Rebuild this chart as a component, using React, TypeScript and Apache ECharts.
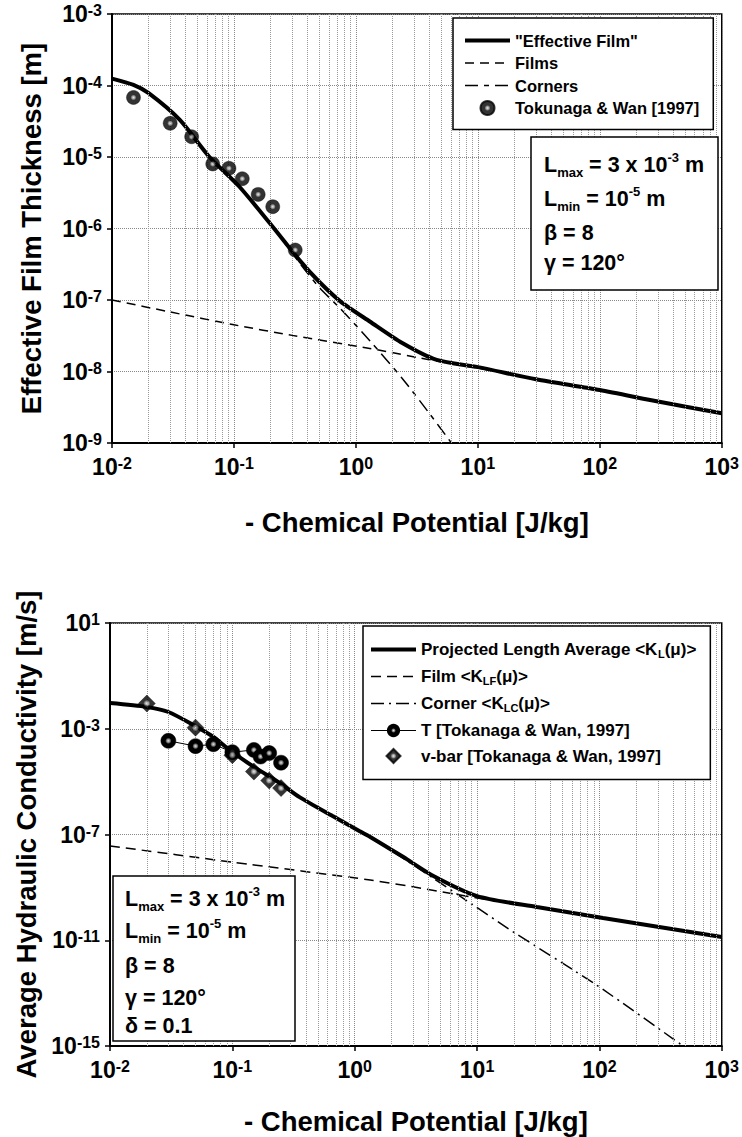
import React, { useEffect, useRef } from 'react';
import * as echarts from 'echarts';

const FONT = '"Liberation Sans", Arial, Helvetica, sans-serif';

// ---------- Top panel: Effective film thickness ----------
const topMu = [0.01, 0.015, 0.02, 0.036, 0.063, 0.11, 0.2, 0.35, 0.5, 0.75, 1.3, 2.4, 4.6, 10, 30, 100, 300, 1000];
const topEffective = [1.25e-4, 1.02e-4, 7.8e-5, 3.3e-5, 1.0e-5, 3.9e-6, 1.15e-6, 3.5e-7, 1.8e-7, 9.5e-8, 5.0e-8, 2.5e-8, 1.45e-8, 1.15e-8, 7.8e-9, 5.5e-9, 3.8e-9, 2.6e-9];
const topFilmsMu = [0.01, 0.03, 0.1, 0.3, 1.3, 4.6, 10, 30, 100, 300, 1000];
const topFilms = [1.0e-7, 6.8e-8, 4.5e-8, 3.2e-8, 2.1e-8, 1.4e-8, 1.12e-8, 7.8e-9, 5.5e-9, 3.8e-9, 2.6e-9];
const topCornersMu = [0.01, 0.015, 0.02, 0.036, 0.063, 0.11, 0.2, 0.35, 0.5, 0.75, 1.3, 2.4, 4.0, 6.07];
const topCorners = [1.25e-4, 1.02e-4, 7.8e-5, 3.3e-5, 1.0e-5, 3.9e-6, 1.15e-6, 3.2e-7, 1.5e-7, 7.5e-8, 2.7e-8, 8.0e-9, 2.6e-9, 1.0e-9];
const tokMu = [0.015, 0.03, 0.045, 0.067, 0.091, 0.117, 0.158, 0.208, 0.318];
const tokThickness = [6.8e-5, 2.96e-5, 1.92e-5, 8.0e-6, 6.95e-6, 4.97e-6, 3.0e-6, 2.02e-6, 5.0e-7];

// ---------- Bottom panel: Average hydraulic conductivity ----------
const botMu = [0.01, 0.02, 0.03, 0.048, 0.07, 0.095, 0.15, 0.244, 0.354, 0.66, 1.09, 1.34, 2.5, 4.4, 10, 30.8, 107, 1000];
const botProjected = [9.4e-3, 6.7e-3, 4.3e-3, 1.39e-3, 4.9e-4, 1.57e-4, 3.6e-5, 8.9e-6, 2.6e-6, 5.0e-7, 1.36e-7, 8.1e-8, 1.4e-8, 2.7e-9, 4.7e-10, 1.8e-10, 7.0e-11, 1.33e-11];
const botFilmMu = [0.01, 0.1, 1.34, 3.4, 10, 30.8, 107, 1000];
const botFilm = [3.7e-8, 9.0e-9, 1.9e-9, 9.5e-10, 4.0e-10, 1.8e-10, 7.0e-11, 1.33e-11];
const botCornerMu = [0.01, 0.02, 0.03, 0.048, 0.07, 0.095, 0.15, 0.244, 0.354, 0.66, 1.09, 1.34, 2.5, 4.4, 7.3, 20, 95, 483];
const botCorner = [9.4e-3, 6.7e-3, 4.3e-3, 1.39e-3, 4.9e-4, 1.57e-4, 3.6e-5, 8.9e-6, 2.6e-6, 5.0e-7, 1.34e-7, 7.9e-8, 1.25e-8, 2.2e-9, 4.6e-10, 2.0e-11, 2.0e-13, 1.0e-15];
const tMu = [0.03, 0.05, 0.07, 0.1, 0.15, 0.17, 0.2, 0.25];
const tK = [3.5e-4, 2.2e-4, 2.6e-4, 1.3e-4, 1.58e-4, 8.9e-5, 1.2e-4, 5.2e-5];
const vbarMu = [0.02, 0.05, 0.1, 0.15, 0.2, 0.25];
const vbarK = [9.0e-3, 1.1e-3, 1.0e-4, 2.4e-5, 1.1e-5, 5.7e-6];

// minor vertical grid positions (2..9 within each decade)
const minorMultipliers = [2, 3, 4, 5, 6, 7, 8, 9];
const decades = [0.01, 0.1, 1, 10, 100];
const minorGridX = decades.flatMap((d) => minorMultipliers.map((m) => +(m * d).toPrecision(3)));

const pairs = (xs: number[], ys: number[]) => xs.map((x, i) => [x, ys[i]]);

const markerFill = new echarts.graphic.RadialGradient(0.5, 0.5, 0.5, [
  { offset: 0, color: '#e0e0e0' },
  { offset: 0.22, color: '#8a8a8a' },
  { offset: 0.42, color: '#000' },
  { offset: 1, color: '#000' },
]);

const expLabel = (v: number) => {
  const e = Math.round(Math.log10(v));
  return `{b|10}{e|${e}}`;
};
const tickRich = {
  b: { fontSize: 23, fontWeight: 'bold', fontFamily: FONT, color: '#000' },
  e: { fontSize: 16, fontWeight: 'bold', fontFamily: FONT, color: '#000', verticalAlign: 'top' },
};

const nameStyle = { fontSize: 27.5, fontWeight: 'bold', fontFamily: FONT, color: '#000' };

const axisCommon = {
  axisLine: { show: true, onZero: false, lineStyle: { color: '#000', width: 2 } },
  axisTick: { show: true, inside: false, length: 5, lineStyle: { color: '#000', width: 1.5 } },
  axisLabel: { formatter: expLabel, rich: tickRich, color: '#000' },
  splitLine: { show: true, lineStyle: { type: 'dotted', color: '#888', width: 1 } },
  minorTick: { show: false },
  minorSplitLine: { show: false },
};

const minorGridMarkLine = {
  silent: true,
  symbol: ['none', 'none'],
  label: { show: false },
  lineStyle: { type: 'dotted', color: '#999', width: 1 },
  emphasis: { disabled: true },
  animation: false,
  data: minorGridX.map((v) => ({ xAxis: v })),
};

const legendText = (name: string) => {
  const m = name.match(/^(.*)_([A-Z]+)(.*)$/);
  if (m) return `{t|${m[1]}}{s|${m[2]}}{t|${m[3]}}`;
  return `{t|${name}}`;
};

const mkRich = (size: number) => ({
  t: { fontSize: size, fontWeight: 'bold', fontFamily: FONT, color: '#000', lineHeight: 20 },
  s: { fontSize: 11, fontWeight: 'bold', fontFamily: FONT, color: '#000', verticalAlign: 'bottom' },
});

const annRich = {
  b: { fontSize: 21.5, fontWeight: 'bold', fontFamily: FONT, color: '#000', lineHeight: 28 },
  s: { fontSize: 13, fontWeight: 'bold', fontFamily: FONT, color: '#000', verticalAlign: 'bottom' },
  p: { fontSize: 13, fontWeight: 'bold', fontFamily: FONT, color: '#000', verticalAlign: 'top' },
};

const annLine = (x: number, y: number, text: string) => ({
  type: 'text',
  x,
  y,
  z: 101,
  style: { text, rich: annRich, verticalAlign: 'middle', align: 'left', fill: '#000' },
});

const hiddenSymbol = { color: 'transparent', borderColor: 'transparent', borderWidth: 0, opacity: 0 };

const TOP_EFF = '"Effective Film"';
const TOP_FILMS = 'Films';
const TOP_CORNERS = 'Corners';
const TOP_TOK = 'Tokunaga & Wan [1997]';
const BOT_PROJ = 'Projected Length Average <K_L(μ)>';
const BOT_FILM = 'Film <K_LF(μ)>';
const BOT_CORNER = 'Corner <K_LC(μ)>';
const BOT_T = 'T [Tokanaga & Wan, 1997]';
const BOT_V = 'v-bar [Tokanaga & Wan, 1997]';

const lineSeries = (name: string, xi: number, xs: number[], ys: number[], z: number, lineStyle: any, extra: any = {}) => ({
  name,
  type: 'line',
  xAxisIndex: xi,
  yAxisIndex: xi,
  data: pairs(xs, ys),
  symbol: 'none',
  smooth: 0.25,
  z,
  lineStyle: { color: '#000', ...lineStyle },
  itemStyle: { color: '#000' },
  ...extra,
});

const option = {
  animation: false,
  backgroundColor: '#fff',
  textStyle: { fontFamily: FONT },
  grid: [
    { left: 112, top: 14, width: 612, height: 429, show: true, borderColor: '#000', borderWidth: 1.5, backgroundColor: 'transparent' },
    { left: 110, top: 623, width: 613, height: 423, show: true, borderColor: '#000', borderWidth: 1.5, backgroundColor: 'transparent' },
  ],
  xAxis: [0, 1].map((i) => ({
    ...axisCommon,
    gridIndex: i,
    type: 'log',
    logBase: 10,
    min: 0.01,
    max: 1000,
    interval: 1,
    axisLabel: { ...axisCommon.axisLabel, margin: 12 },
    name: '- Chemical Potential [J/kg]',
    nameLocation: 'middle',
    nameGap: i === 0 ? 65 : 61,
    nameTextStyle: nameStyle,
  })),
  yAxis: [
    {
      ...axisCommon,
      gridIndex: 0,
      type: 'log',
      logBase: 10,
      min: 1e-9,
      max: 1e-3,
      interval: 1,
      axisLabel: { ...axisCommon.axisLabel, margin: 10 },
      name: 'Effective Film Thickness [m]',
      nameLocation: 'middle',
      nameGap: 67,
      nameTextStyle: nameStyle,
    },
    {
      ...axisCommon,
      gridIndex: 1,
      type: 'log',
      logBase: 10,
      min: 1e-15,
      max: 10,
      interval: 4,
      axisLabel: { ...axisCommon.axisLabel, margin: 10 },
      name: 'Average Hydraulic Conductivity [m/s]',
      nameLocation: 'middle',
      nameGap: 67,
      nameTextStyle: nameStyle,
    },
  ],
  legend: [
    {
      orient: 'vertical',
      left: 453,
      top: 18,
      padding: [14, 14, 13, 10],
      itemGap: 5.5,
      itemWidth: 45,
      itemHeight: 14,
      borderColor: '#000',
      borderWidth: 1.5,
      borderRadius: 0,
      backgroundColor: '#fff',
      selectedMode: false,
      symbolKeepAspect: true,
      z: 10,
      formatter: legendText,
      textStyle: { rich: mkRich(16.5) },
      data: [
        { name: TOP_EFF, lineStyle: { width: 4 }, itemStyle: hiddenSymbol },
        { name: TOP_FILMS, lineStyle: { width: 1.5 }, itemStyle: hiddenSymbol },
        { name: TOP_CORNERS, lineStyle: { width: 1.5 }, itemStyle: hiddenSymbol },
        { name: TOP_TOK },
      ],
    },
    {
      orient: 'vertical',
      left: 363,
      top: 626,
      padding: [15, 14, 15, 6],
      itemGap: 8.5,
      itemWidth: 45,
      itemHeight: 14,
      borderColor: '#000',
      borderWidth: 1.5,
      borderRadius: 0,
      backgroundColor: '#fff',
      selectedMode: false,
      symbolKeepAspect: true,
      z: 10,
      formatter: legendText,
      textStyle: { rich: mkRich(17) },
      data: [
        { name: BOT_PROJ, lineStyle: { width: 4 }, itemStyle: hiddenSymbol },
        { name: BOT_FILM, lineStyle: { width: 1.5 }, itemStyle: hiddenSymbol },
        { name: BOT_CORNER, lineStyle: { width: 1.5 }, itemStyle: hiddenSymbol },
        { name: BOT_T, lineStyle: { width: 1 } },
        { name: BOT_V, icon: 'path://M0,-1L1,0L0,1L-1,0Z' },
      ],
    },
  ],
  series: [
    lineSeries(TOP_FILMS, 0, topFilmsMu, topFilms, 1, { width: 1.5, type: [9, 6] }, { markLine: minorGridMarkLine }),
    lineSeries(TOP_CORNERS, 0, topCornersMu, topCorners, 2, { width: 1.5, type: [13, 6, 5, 6] }),
    lineSeries(TOP_EFF, 0, topMu, topEffective, 3, { width: 4 }),
    {
      name: TOP_TOK,
      type: 'scatter',
      xAxisIndex: 0,
      yAxisIndex: 0,
      data: pairs(tokMu, tokThickness),
      symbol: 'circle',
      symbolSize: 14,
      z: 5,
      itemStyle: { color: markerFill, borderColor: '#000', borderWidth: 0.5 },
    },
    lineSeries(BOT_FILM, 1, botFilmMu, botFilm, 1, { width: 1.5, type: [10, 6] }, { markLine: minorGridMarkLine }),
    lineSeries(BOT_CORNER, 1, botCornerMu, botCorner, 2, { width: 1.5, type: [13, 5, 2, 5] }),
    lineSeries(BOT_PROJ, 1, botMu, botProjected, 3, { width: 4 }),
    {
      name: BOT_T,
      type: 'line',
      xAxisIndex: 1,
      yAxisIndex: 1,
      data: pairs(tMu, tK),
      symbol: 'circle',
      symbolSize: 15,
      showSymbol: true,
      z: 5,
      lineStyle: { color: '#000', width: 1 },
      itemStyle: { color: markerFill, borderColor: '#000', borderWidth: 0.5 },
    },
    {
      name: BOT_V,
      type: 'scatter',
      xAxisIndex: 1,
      yAxisIndex: 1,
      data: pairs(vbarMu, vbarK),
      symbol: 'diamond',
      symbolSize: [17, 17],
      symbolKeepAspect: true,
      z: 6,
      itemStyle: { color: markerFill, borderColor: '#000', borderWidth: 0.5 },
    },
  ],
  graphic: [
    {
      type: 'group',
      z: 100,
      children: [
        { type: 'rect', z: 100, shape: { x: 531, y: 137, width: 187, height: 153 }, style: { fill: '#fff', stroke: '#000', lineWidth: 1.5 } },
        annLine(544, 165, '{b|L}{s|max}{b| = 3 x 10}{p|-3}{b| m}'),
        annLine(544, 199, '{b|L}{s|min}{b| = 10}{p|-5}{b| m}'),
        annLine(544, 233, '{b|β = 8}'),
        annLine(544, 263, '{b|γ = 120°}'),
        { type: 'rect', z: 100, shape: { x: 113, y: 876, width: 182, height: 165 }, style: { fill: '#fff', stroke: '#000', lineWidth: 1.5 } },
        annLine(125, 899, '{b|L}{s|max}{b| = 3 x 10}{p|-3}{b| m}'),
        annLine(125, 931, '{b|L}{s|min}{b| = 10}{p|-5}{b| m}'),
        annLine(125, 966, '{b|β = 8}'),
        annLine(125, 998, '{b|γ = 120°}'),
        annLine(125, 1026, '{b|δ = 0.1}'),
      ],
    },
  ],
};

export default function App() {
  const ref = useRef<HTMLDivElement>(null);
  useEffect(() => {
    if (!ref.current) return;
    const chart = echarts.init(ref.current, null, { renderer: 'svg' });
    chart.setOption(option as any);
    return () => chart.dispose();
  }, []);
  return (
    <div
      ref={ref}
      style={{ position: 'absolute', left: 0, top: 0, width: 742, height: 1137, background: '#fff' }}
    />
  );
}
